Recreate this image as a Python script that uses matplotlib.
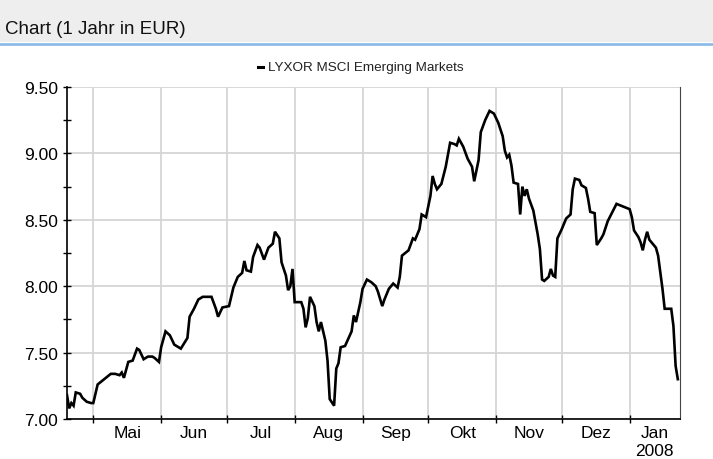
import matplotlib
matplotlib.use("Agg")
import matplotlib.pyplot as plt
import matplotlib.dates as mdates
import numpy as np
from matplotlib.patches import Rectangle
from matplotlib.lines import Line2D

plt.rcParams['font.family'] = ['Liberation Sans', 'DejaVu Sans']

title = "Chart (1 Jahr in EUR)"
series_name = "LYXOR MSCI Emerging Markets"

dates = [
    "2007-04-19", "2007-04-20", "2007-04-21", "2007-04-22", "2007-04-23", "2007-04-25",
    "2007-04-26", "2007-04-28", "2007-04-30", "2007-05-01", "2007-05-03", "2007-05-06",
    "2007-05-09", "2007-05-11", "2007-05-13", "2007-05-14", "2007-05-15", "2007-05-17",
    "2007-05-19", "2007-05-21", "2007-05-22", "2007-05-24", "2007-05-26", "2007-05-28",
    "2007-05-29", "2007-05-31", "2007-06-01", "2007-06-03", "2007-06-05", "2007-06-07",
    "2007-06-10", "2007-06-13", "2007-06-14", "2007-06-16", "2007-06-18", "2007-06-20",
    "2007-06-24", "2007-06-26", "2007-06-27", "2007-06-29", "2007-07-02", "2007-07-04",
    "2007-07-06", "2007-07-08", "2007-07-09", "2007-07-10", "2007-07-12", "2007-07-13",
    "2007-07-15", "2007-07-16", "2007-07-18", "2007-07-20", "2007-07-22", "2007-07-23",
    "2007-07-25", "2007-07-26", "2007-07-28", "2007-07-29", "2007-07-30", "2007-07-31",
    "2007-08-01", "2007-08-04", "2007-08-05", "2007-08-06", "2007-08-07", "2007-08-08",
    "2007-08-10", "2007-08-11", "2007-08-12", "2007-08-13", "2007-08-15", "2007-08-16",
    "2007-08-17", "2007-08-19", "2007-08-20", "2007-08-21", "2007-08-22", "2007-08-24",
    "2007-08-27", "2007-08-28", "2007-08-29", "2007-08-31", "2007-09-01", "2007-09-03",
    "2007-09-05", "2007-09-07", "2007-09-08", "2007-09-10", "2007-09-11", "2007-09-13",
    "2007-09-15", "2007-09-17", "2007-09-18", "2007-09-19", "2007-09-22", "2007-09-24",
    "2007-09-25", "2007-09-27", "2007-09-28", "2007-09-30", "2007-10-02", "2007-10-03",
    "2007-10-04", "2007-10-05", "2007-10-07", "2007-10-09", "2007-10-11", "2007-10-13",
    "2007-10-14", "2007-10-15", "2007-10-17", "2007-10-19", "2007-10-21", "2007-10-22",
    "2007-10-24", "2007-10-25", "2007-10-27", "2007-10-29", "2007-10-31", "2007-11-02",
    "2007-11-04", "2007-11-05", "2007-11-06", "2007-11-07", "2007-11-08", "2007-11-09",
    "2007-11-11", "2007-11-12", "2007-11-13", "2007-11-14", "2007-11-15", "2007-11-16",
    "2007-11-18", "2007-11-20", "2007-11-21", "2007-11-22", "2007-11-23", "2007-11-25",
    "2007-11-26", "2007-11-27", "2007-11-28", "2007-11-29", "2007-12-01", "2007-12-03",
    "2007-12-05", "2007-12-06", "2007-12-07", "2007-12-09", "2007-12-10", "2007-12-12",
    "2007-12-13", "2007-12-14", "2007-12-16", "2007-12-17", "2007-12-19", "2007-12-20",
    "2007-12-22", "2007-12-26", "2007-12-29", "2008-01-01", "2008-01-02", "2008-01-03",
    "2008-01-05", "2008-01-06", "2008-01-07", "2008-01-08", "2008-01-09", "2008-01-10",
    "2008-01-13", "2008-01-14", "2008-01-16", "2008-01-17", "2008-01-20", "2008-01-21",
    "2008-01-22", "2008-01-23",
]
values = [
    7.18, 7.08, 7.12, 7.10, 7.20, 7.19,
    7.16, 7.13, 7.12, 7.12, 7.26, 7.30,
    7.34, 7.34, 7.33, 7.35, 7.31, 7.43,
    7.44, 7.53, 7.52, 7.45, 7.47, 7.47,
    7.46, 7.43, 7.54, 7.66, 7.63, 7.56,
    7.53, 7.61, 7.77, 7.83, 7.90, 7.92,
    7.92, 7.83, 7.77, 7.84, 7.85, 7.99,
    8.07, 8.10, 8.19, 8.12, 8.11, 8.22,
    8.31, 8.29, 8.20, 8.29, 8.32, 8.41,
    8.36, 8.18, 8.08, 7.97, 8.00, 8.13,
    7.88, 7.88, 7.83, 7.69, 7.76, 7.92,
    7.85, 7.73, 7.66, 7.73, 7.59, 7.44,
    7.15, 7.10, 7.38, 7.42, 7.54, 7.55,
    7.66, 7.78, 7.73, 7.88, 7.98, 8.05,
    8.03, 8.00, 7.96, 7.85, 7.90, 7.98,
    8.02, 7.99, 8.07, 8.23, 8.27, 8.36,
    8.35, 8.43, 8.54, 8.52, 8.68, 8.83,
    8.77, 8.73, 8.77, 8.90, 9.08, 9.07,
    9.06, 9.11, 9.05, 8.96, 8.90, 8.79,
    8.95, 9.16, 9.25, 9.32, 9.30, 9.23,
    9.13, 9.02, 8.97, 8.99, 8.91, 8.78,
    8.77, 8.54, 8.75, 8.68, 8.73, 8.66,
    8.57, 8.39, 8.28, 8.05, 8.04, 8.07,
    8.13, 8.08, 8.07, 8.36, 8.43, 8.51,
    8.54, 8.73, 8.81, 8.80, 8.76, 8.74,
    8.66, 8.56, 8.55, 8.31, 8.36, 8.39,
    8.49, 8.62, 8.60, 8.58, 8.52, 8.42,
    8.37, 8.33, 8.27, 8.35, 8.41, 8.35,
    8.29, 8.23, 7.98, 7.83, 7.83, 7.70,
    7.40, 7.30,
]

month_starts = ["2007-05-01", "2007-06-01", "2007-07-01", "2007-08-01", "2007-09-01",
                "2007-10-01", "2007-11-01", "2007-12-01", "2008-01-01"]
month_labels = ["Mai", "Jun", "Jul", "Aug", "Sep", "Okt", "Nov", "Dez", "Jan\n2008"]
x_start = "2007-04-19"
x_end = "2008-01-24"
y_ticks = [7.0, 7.5, 8.0, 8.5, 9.0, 9.5]

d = mdates.datestr2num(dates)
ms = mdates.datestr2num(month_starts)
x0, x1 = mdates.datestr2num([x_start, x_end])

fig = plt.figure(figsize=(7.13, 4.60), dpi=100)

# header band
fig.patches.append(Rectangle((0, 1 - 43 / 460), 1, 43 / 460, transform=fig.transFigure,
                             facecolor="#eeeeee", edgecolor="none", zorder=0))
fig.lines.append(Line2D([0, 1], [1 - 44.5 / 460] * 2, transform=fig.transFigure,
                        color="#8dbde8", lw=2))
fig.text(5 / 713, 1 - 30 / 460, title, fontsize=13.5, va="center", ha="left", color="#111111")

# legend
fig.lines.append(Line2D([258 / 713, 263 / 713], [1 - 68 / 460] * 2, transform=fig.transFigure,
                        color="black", lw=2.2))
fig.text(268 / 713, 1 - 68 / 460, series_name, fontsize=9.7, va="center", ha="left", color="#222222")

ax = fig.add_axes([67 / 713, 40 / 460, 613 / 713, 332 / 460])
ax.plot(d, values, color="black", lw=1.9, solid_joinstyle="miter", zorder=3)

ax.set_xlim(x0, x1)
ax.set_ylim(7.0, 9.5)

ax.set_yticks(y_ticks)
ax.set_yticklabels([f"{v:.2f}" for v in y_ticks])
ax.set_yticks(np.arange(7.25, 9.5, 0.5), minor=True)

ax.set_xticks(ms)
ax.set_xticklabels([])
edges = list(ms) + [x1]
mids = [(edges[i] + edges[i + 1]) / 2 for i in range(len(ms))]
ax.set_xticks(mids, minor=True)
ax.set_xticklabels(month_labels, minor=True, fontsize=12.5, va="top", linespacing=1.25)

ax.tick_params(axis="y", which="both", direction="inout", length=6, width=1, labelsize=12.5, pad=3.5)
ax.tick_params(axis="x", which="major", direction="inout", length=6, width=1)
ax.tick_params(axis="x", which="minor", length=0, pad=4.5)

ax.grid(True, which="major", color="#d6d6d6", lw=1.3, zorder=0)
ax.set_axisbelow(True)

ax.spines["top"].set_visible(False)
ax.spines["right"].set_color("#444444")
ax.spines["left"].set_linewidth(1.2)
ax.spines["bottom"].set_linewidth(1.2)

fig.savefig("out.png", dpi=100)
